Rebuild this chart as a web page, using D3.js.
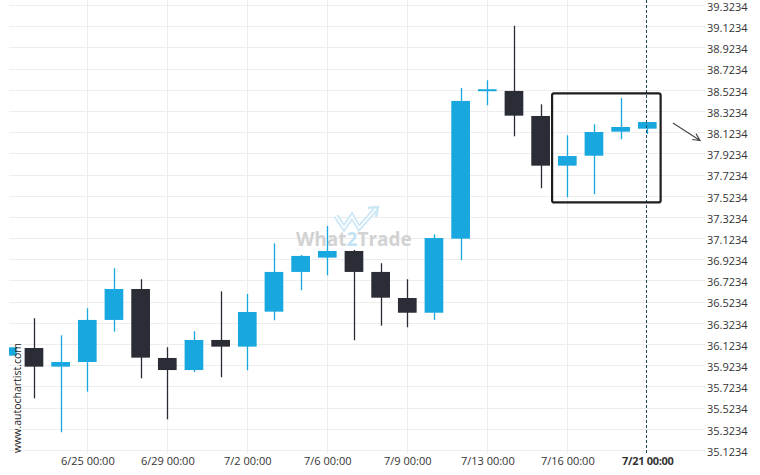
<!DOCTYPE html>
<html>
<head>
<meta charset="utf-8">
<script src="https://cdn.jsdelivr.net/npm/d3@7"></script>
<style>
  html, body { margin: 0; padding: 0; background: #fff; }
  svg { display: block; font-family: "Open Sans", sans-serif; }
</style>
</head>
<body>
<svg id="chart" width="760" height="475"></svg>
<script>
// ---- data ----
const candleIndex = d3.range(25);
const openVals  = [36.014, 36.086, 35.910, 35.954, 36.351, 36.643, 35.992, 35.878, 36.162, 36.099, 36.429, 36.804, 36.939, 37.002, 36.804, 36.558, 36.419, 37.118, 38.519, 38.512, 38.276, 37.807, 37.901, 38.128, 38.156];
const highVals  = [36.120, 36.367, 36.206, 36.461, 36.839, 36.735, 36.093, 36.244, 36.621, 36.596, 37.074, 36.964, 37.238, 37.011, 36.886, 36.735, 37.159, 38.540, 38.613, 39.128, 38.386, 38.094, 38.198, 38.446, 38.219];
const lowVals   = [35.990, 35.611, 35.291, 35.674, 36.240, 35.800, 35.413, 35.859, 35.810, 35.876, 36.348, 36.631, 36.772, 36.159, 36.297, 36.282, 36.351, 36.914, 38.377, 38.084, 37.594, 37.509, 37.537, 38.056, 38.106];
const closeVals = [36.093, 35.910, 35.954, 36.351, 36.643, 35.995, 35.878, 36.162, 36.099, 36.426, 36.804, 36.955, 37.002, 36.804, 36.561, 36.419, 37.124, 38.418, 38.519, 38.279, 37.807, 37.898, 38.125, 38.172, 38.219];

const xTickIndex  = [3, 6, 9, 12, 15, 18, 21, 24];
const xTickLabels = ["6/25 00:00", "6/29 00:00", "7/2 00:00", "7/6 00:00", "7/9 00:00", "7/13 00:00", "7/16 00:00", "7/21 00:00"];
const yTickValues = d3.range(0, 22).map(i => 35.1234 + i * 0.2);

const patternIndex = [20.43, 24.5];
const patternValue = [38.49, 37.46];
const forecastIndex = [24.96, 25.98];
const forecastValue = [38.21, 38.045];
const currentIndex = 24;

// ---- layout ----
const svg = d3.select("#chart");
const plotLeft = 9, plotRight = 705, plotTop = 0, plotBottom = 454;
const x = d3.scaleLinear().domain([0, 24]).range([7.3, 647.3]);
const y = d3.scaleLinear().domain([35.1234, 39.3234]).range([450, 5]);
const blue = "#19a7df", dark = "#2b2d36";

svg.append("defs").append("clipPath").attr("id", "clip")
  .append("rect").attr("x", plotLeft).attr("y", plotTop)
  .attr("width", plotRight - plotLeft).attr("height", plotBottom - plotTop);

// grid
const grid = svg.append("g");
grid.selectAll(".hg").data(yTickValues).join("line")
  .attr("x1", plotLeft).attr("x2", plotRight)
  .attr("y1", d => Math.round(y(d)) + 0.5).attr("y2", d => Math.round(y(d)) + 0.5)
  .attr("stroke", "#ededed").attr("stroke-width", 1);
grid.selectAll(".vg").data(xTickIndex.slice(0, -1)).join("line")
  .attr("x1", d => Math.round(x(d)) + 0.5).attr("x2", d => Math.round(x(d)) + 0.5)
  .attr("y1", plotTop).attr("y2", plotBottom)
  .attr("stroke", "#ededed").attr("stroke-width", 1);

// y axis labels
const yAxis = d3.axisRight(y).tickValues(yTickValues).tickSize(0).tickPadding(0)
  .tickFormat(d => d.toFixed(4));
const yg = svg.append("g").attr("transform", `translate(707,1.8)`).call(yAxis);
yg.select(".domain").remove();
yg.selectAll("text").attr("font-size", 11).attr("fill", "#333").attr("font-family", "Open Sans, sans-serif");

// x axis labels
const xAxis = d3.axisBottom(x).tickValues(xTickIndex).tickSize(0).tickPadding(0)
  .tickFormat((d, i) => xTickLabels[i]);
const xg = svg.append("g").attr("transform", `translate(0,457)`).call(xAxis);
xg.select(".domain").remove();
xg.selectAll("text").attr("font-size", 11).attr("fill", "#333").attr("font-family", "Open Sans, sans-serif")
  .attr("font-weight", (d, i) => i === xTickLabels.length - 1 ? "bold" : "normal")
  .attr("letter-spacing", (d, i) => i === xTickLabels.length - 1 ? "-0.3" : "0");

// watermark
const wm = svg.append("g");
const logo = d3.line()([[336, 216], [344, 228], [352, 216], [359, 228], [375, 210]]);
wm.append("path").attr("d", logo).attr("fill", "none").attr("stroke", "#cbe7f6").attr("stroke-width", 5).attr("stroke-linejoin", "miter");
wm.append("path").attr("d", logo).attr("fill", "none").attr("stroke", "#fff").attr("stroke-width", 1.6);
wm.append("path").attr("d", "M368,208 L378,207 L376,217").attr("fill", "none").attr("stroke", "#cbe7f6").attr("stroke-width", 2.5);
const wt = wm.append("text").attr("x", 296).attr("y", 246).attr("font-size", 19).attr("font-weight", "bold")
  .attr("fill", "#d2d2d2").attr("font-family", "Open Sans, sans-serif");
wt.append("tspan").text("What");
wt.append("tspan").attr("fill", "#c3e2f3").text("2");
wt.append("tspan").text("Trade");

// candles
const candles = candleIndex.map(i => ({ i, o: openVals[i], h: highVals[i], l: lowVals[i], c: closeVals[i] }));
const cg = svg.append("g").attr("clip-path", "url(#clip)");
const bw = 18.7;
const cgs = cg.selectAll("g.c").data(candles).join("g").attr("class", "c");
cgs.append("line")
  .attr("x1", d => Math.round(x(d.i)) + 0.5).attr("x2", d => Math.round(x(d.i)) + 0.5)
  .attr("y1", d => y(d.h)).attr("y2", d => y(d.l))
  .attr("stroke", d => d.c >= d.o ? blue : dark).attr("stroke-width", 1.3);
cgs.append("rect")
  .attr("x", d => x(d.i) - bw / 2)
  .attr("width", bw)
  .attr("y", d => y(Math.max(d.o, d.c)) - (Math.abs(y(d.o) - y(d.c)) < 2 ? 1 : 0))
  .attr("height", d => Math.max(2, Math.abs(y(d.o) - y(d.c))))
  .attr("fill", d => d.c >= d.o ? blue : dark);

// current-time dashed line
svg.append("line")
  .attr("x1", Math.round(x(currentIndex)) - 0.5).attr("x2", Math.round(x(currentIndex)) - 0.5)
  .attr("y1", 0).attr("y2", plotBottom)
  .attr("stroke", "#1d4b5e").attr("stroke-width", 1).attr("stroke-dasharray", "3,2");

// pattern box
svg.append("rect")
  .attr("x", x(patternIndex[0])).attr("y", y(patternValue[0]))
  .attr("width", x(patternIndex[1]) - x(patternIndex[0]))
  .attr("height", y(patternValue[1]) - y(patternValue[0]))
  .attr("rx", 2).attr("fill", "none").attr("stroke", "#1e1e1e").attr("stroke-width", 2.2);

// forecast arrow
const ax1 = x(forecastIndex[0]), ay1 = y(forecastValue[0]), ax2 = x(forecastIndex[1]), ay2 = y(forecastValue[1]);
const ang = Math.atan2(ay2 - ay1, ax2 - ax1);
const hl = 8, ha = 0.45;
svg.append("path")
  .attr("d", `M${ax1},${ay1} L${ax2},${ay2} M${ax2 - hl * Math.cos(ang - ha)},${ay2 - hl * Math.sin(ang - ha)} L${ax2},${ay2} L${ax2 - hl * Math.cos(ang + ha)},${ay2 - hl * Math.sin(ang + ha)}`)
  .attr("fill", "none").attr("stroke", "#444").attr("stroke-width", 1.1);

// vertical site text
svg.append("text").attr("transform", "translate(21,453) rotate(-90)")
  .attr("font-size", 10.5).attr("fill", "#222").attr("font-family", "Open Sans, sans-serif")
  .text("www.autochartist.com");
</script>
</body>
</html>
